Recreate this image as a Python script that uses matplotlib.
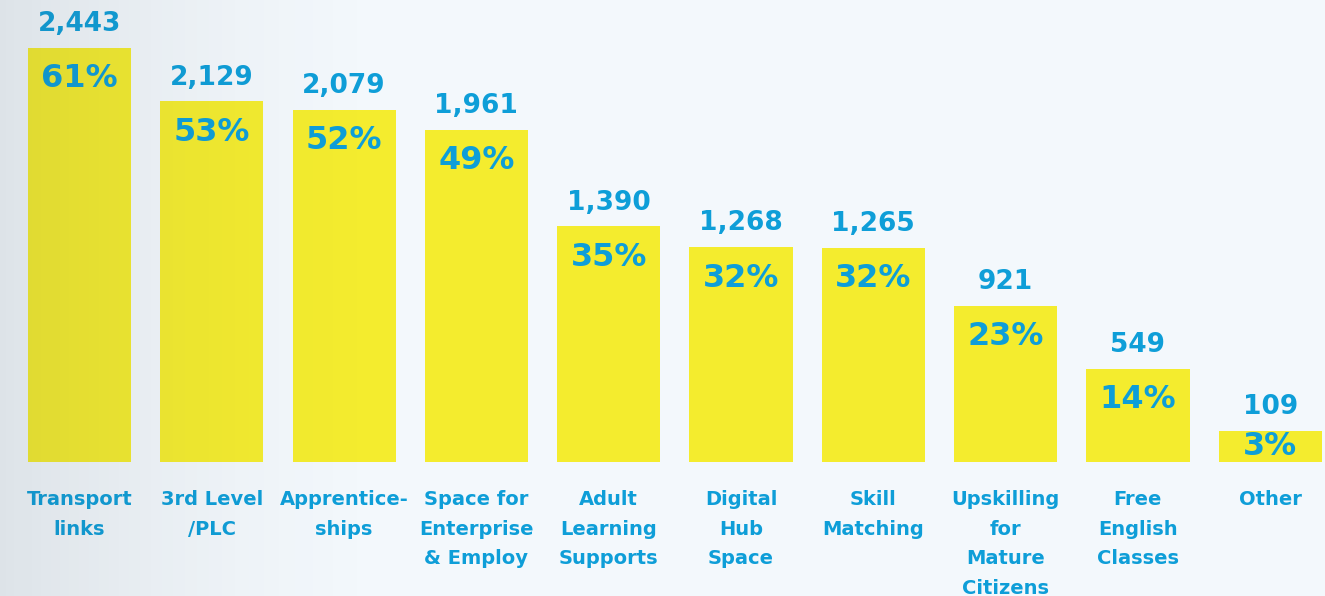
import numpy as np
import matplotlib
matplotlib.use("Agg")
import matplotlib.pyplot as plt

categories = ["Transport\nlinks", "3rd Level\n/PLC", "Apprentice-\nships",
              "Space for\nEnterprise\n& Employ", "Adult\nLearning\nSupports",
              "Digital\nHub\nSpace", "Skill\nMatching", "Upskilling\nfor\nMature\nCitizens",
              "Free\nEnglish\nClasses", "Other"]
counts = [2443, 2129, 2079, 1961, 1390, 1268, 1265, 921, 549, 109]
percents = [61, 53, 52, 49, 35, 32, 32, 23, 14, 3]

BLUE = "#0E9ED8"
YELLOW = "#F4EC2E"
BG = "#F3F8FC"

plt.rcParams['font.family'] = ['DejaVu Sans']

fig = plt.figure(figsize=(13.25, 5.96), dpi=100)
fig.patch.set_facecolor(BG)

ax = fig.add_axes([0, 134 / 596, 1, 462 / 596])
ax.set_facecolor("none")
x = np.arange(len(categories))
# short bars get a minimum height so the percentage fits inside
heights = [max(c, 183) for c in counts]
ax.bar(x, heights, width=0.78, color=YELLOW, zorder=2)
ax.set_xlim(-0.601, 9.414)
ax.set_ylim(0, 2726)

for xi, h, c, p in zip(x, heights, counts, percents):
    ax.annotate(f"{c:,}", (xi, h), xytext=(0, 17), textcoords="offset points",
                ha="center", va="center", fontsize=19, fontweight="bold", color=BLUE)
    yp = max(h - 183, h / 2)
    ax.text(xi, yp, f"{p}%", ha="center", va="center", fontsize=23,
            fontweight="bold", color=BLUE, zorder=3)

ax.set_xticks(x)
ax.set_xticklabels(categories, fontsize=14, fontweight="bold", color=BLUE)
for lbl in ax.get_xticklabels():
    lbl.set_linespacing(1.72)
ax.tick_params(axis="x", length=0, pad=20)
ax.set_yticks([])
for s in ax.spines.values():
    s.set_visible(False)

# soft shadow gradient on the left edge
ov = fig.add_axes([0, 0, 1, 1], zorder=10)
ov.axis("off")
grad = np.zeros((2, 1325, 4))
xs = np.linspace(0, 1, 1325)
alpha = np.clip(1 - xs / 0.3, 0, 1) ** 1.5 * 0.12
grad[..., 0] = 0.25
grad[..., 1] = 0.3
grad[..., 2] = 0.35
grad[..., 3] = alpha
ov.imshow(grad, aspect="auto", extent=[0, 1, 0, 1])
ov.set_xlim(0, 1)
ov.set_ylim(0, 1)

fig.savefig("out.png", dpi=100, facecolor=BG)
